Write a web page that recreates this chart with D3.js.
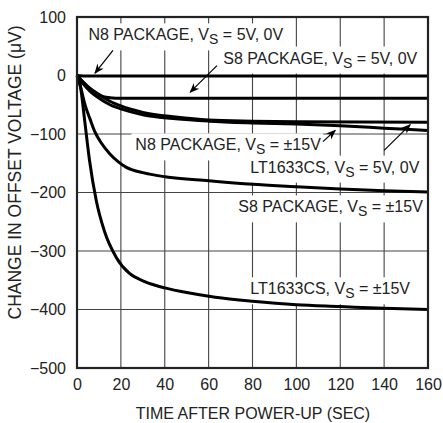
<!DOCTYPE html>
<html>
<head>
<meta charset="utf-8">
<script src="https://cdn.jsdelivr.net/npm/d3@7"></script>
<style>
  body { margin: 0; background: #fff; }
  svg text { font-family: "Liberation Sans", Arial, Helvetica, sans-serif; fill: #222; }
</style>
</head>
<body>
<svg id="chart" width="443" height="423"></svg>
<script>
// time (sec) / change in offset (uV)
var n8Low   = [[0,0],[5,-1],[20,-1],[80,-1],[160,-1]];
var s8Low   = [[0,0],[2,-8],[4,-16],[6,-23],[8,-29],[10,-33],[12,-36],[15,-38],[20,-39],[80,-39],[160,-39]];
var n8High  = [[0,0],[3,-12],[6,-22],[9,-30],[15,-44],[20,-52],[30,-63],[45,-71],[60,-76],[80,-78],[100,-79],[160,-80]];
var ltLow   = [[0,0],[3,-15],[6,-27],[9,-36],[15,-50],[20,-57],[30,-67],[45,-74],[60,-78],[80,-81],[100,-83],[120,-86],[140,-90],[160,-94]];
var s8High  = [[0,0],[2,-25],[3.5,-48],[6,-75],[8,-95],[11,-115],[15,-134],[19,-148],[22.5,-157],[30,-166],[40,-173],[60,-180],[80,-186],[100,-190],[120,-194],[140,-197],[160,-199]];
var ltHigh  = [[0,0],[1,-6],[2,-30],[3.5,-77],[5.7,-145],[8.8,-214],[12.4,-265],[17.9,-311],[23.8,-338],[30,-351],[36,-359],[40,-363],[50,-371],[63,-379],[80,-386],[100,-392],[120,-395],[140,-398],[160,-400]];

var xTicks = [0,20,40,60,80,100,120,140,160];
var yTicks = [100,0,-100,-200,-300,-400,-500];

// label text: before subscript, subscript, after; anchor (start, baseline) in data units
var labels = [
  {pre: "N8 PACKAGE, V", sub: "S", post: " = 5V, 0V", t: 5.2, v: 60},
  {pre: "S8 PACKAGE, V", sub: "S", post: " = 5V, 0V", t: 66.7, v: 20.5},
  {pre: "N8 PACKAGE, V", sub: "S", post: " = \u00b115V", t: 26.6, v: -128},
  {pre: "LT1633CS, V", sub: "S", post: " = 5V, 0V", t: 79, v: -166},
  {pre: "S8 PACKAGE, V", sub: "S", post: " = \u00b115V", t: 73.5, v: -234},
  {pre: "LT1633CS, V", sub: "S", post: " = \u00b115V", t: 79, v: -374}
];
// arrows: [tail t, tail v, head t, head v]
var arrows = [
  [16.4, 43, 8.2, 4],
  [63.8, 17, 51.6, -28.5],
  [112.1, -113, 117.7, -94],
  [140, -128, 151.9, -84]
];

function draw() {
  var svg = d3.select("#chart");
  var pl = 77, pr = 428, pt = 17, pb = 368;

  var x = d3.scaleLinear().domain([0, 160]).range([pl, pr]);
  var y = d3.scaleLinear().domain([-500, 100]).range([pb, pt]);

  // grid
  var grid = svg.append("g");
  grid.selectAll(".gx").data(xTicks.slice(1, -1)).enter().append("line")
    .attr("x1", d => x(d)).attr("x2", d => x(d))
    .attr("y1", pt).attr("y2", pb)
    .attr("stroke", "#444").attr("stroke-width", 1.1);
  grid.selectAll(".gy").data(yTicks.slice(1, -1)).enter().append("line")
    .attr("x1", pl).attr("x2", pr)
    .attr("y1", d => y(d)).attr("y2", d => y(d))
    .attr("stroke", "#444").attr("stroke-width", 1.1);

  // label boxes & text
  var lab = svg.append("g");
  labels.forEach(function(l) {
    var g = lab.append("g");
    var t = g.append("text")
      .attr("x", x(l.t)).attr("y", y(l.v))
      .style("font-size", "16px");
    t.append("tspan").text(l.pre);
    t.append("tspan").text(l.sub).attr("dy", 4).style("font-size", "14px");
    t.append("tspan").text(l.post).attr("dy", -4);
    var bb = t.node().getBBox();
    g.insert("rect", "text")
      .attr("x", bb.x - 4).attr("y", bb.y - 3)
      .attr("width", bb.width + 6).attr("height", bb.height + 6)
      .attr("fill", "#fff");
  });

  // curves
  var line = d3.line().x(d => x(d[0])).y(d => y(d[1])).curve(d3.curveMonotoneX);
  var series = [n8Low, s8Low, n8High, ltLow, s8High, ltHigh];
  svg.append("g").selectAll("path").data(series).enter().append("path")
    .attr("d", line)
    .attr("fill", "none")
    .attr("stroke", "#000")
    .attr("stroke-width", 3);

  // arrows
  svg.append("defs").append("marker")
    .attr("id", "head").attr("viewBox", "0 0 10 10")
    .attr("refX", 9).attr("refY", 5)
    .attr("markerWidth", 10).attr("markerHeight", 10)
    .attr("markerUnits", "userSpaceOnUse")
    .attr("orient", "auto")
    .append("path").attr("d", "M0,1L10,5L0,9L3,5Z").attr("fill", "#000");
  svg.append("g").selectAll("line").data(arrows).enter().append("line")
    .attr("x1", d => x(d[0])).attr("y1", d => y(d[1]))
    .attr("x2", d => x(d[2])).attr("y2", d => y(d[3]))
    .attr("stroke", "#000").attr("stroke-width", 1.2)
    .attr("marker-end", "url(#head)");

  // frame
  svg.append("rect")
    .attr("x", pl).attr("y", pt)
    .attr("width", pr - pl).attr("height", pb - pt)
    .attr("fill", "none").attr("stroke", "#222").attr("stroke-width", 2.2);

  // axes
  var xAxis = svg.append("g").attr("transform", "translate(0," + pb + ")")
    .call(d3.axisBottom(x).tickValues(xTicks).tickSize(0).tickPadding(11).tickFormat(d3.format("d")));
  var yAxis = svg.append("g").attr("transform", "translate(" + pl + ",0)")
    .call(d3.axisLeft(y).tickValues(yTicks).tickSize(0).tickPadding(11).tickFormat(d => d < 0 ? "\u2212" + (-d) : d));
  [xAxis, yAxis].forEach(function(a) {
    a.select(".domain").remove();
    a.selectAll("text").style("font-size", "16px").attr("fill", "#222");
  });

  svg.append("text")
    .attr("x", 253).attr("y", 419)
    .attr("text-anchor", "middle").style("font-size", "16px")
    .text("TIME AFTER POWER-UP (SEC)");
  svg.append("text")
    .attr("transform", "translate(21,172.5) rotate(-90)")
    .attr("text-anchor", "middle").style("font-size", "17.5px")
    .text("CHANGE IN OFFSET VOLTAGE (\u03bcV)");
}
draw();
</script>
</body>
</html>
